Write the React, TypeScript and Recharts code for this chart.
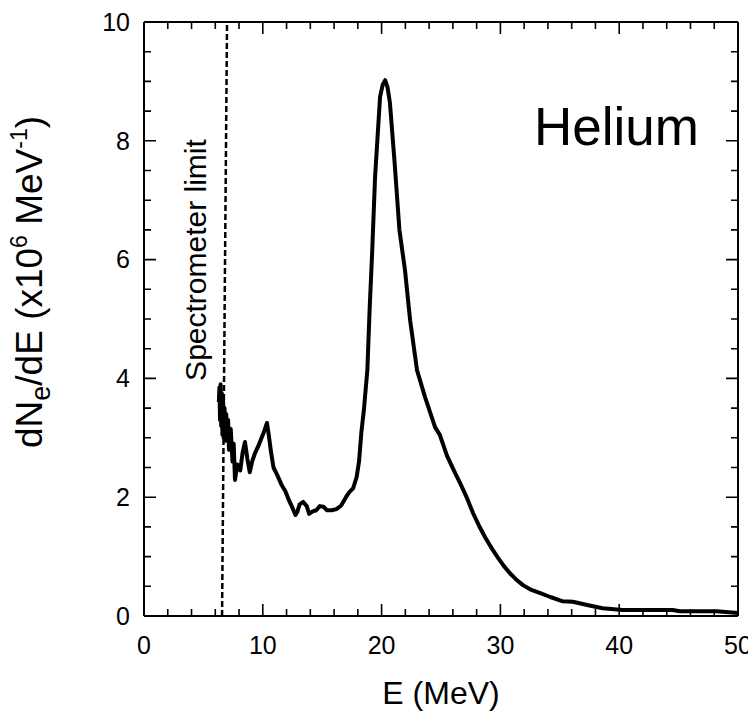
import React from "react";
import { LineChart, Line, XAxis, YAxis, ReferenceLine } from "recharts";

const energy = [
  6.3, 6.35, 6.4, 6.45, 6.5, 6.55, 6.6, 6.65, 6.7, 6.78, 6.85, 6.92, 7.0, 7.08, 7.15, 7.22, 7.3, 7.45, 7.55, 7.66,
  7.85, 8.1, 8.3, 8.5, 8.7, 8.9, 9.1, 9.34, 9.6, 9.9, 10.1, 10.35, 10.5, 10.7, 10.9, 11.2, 11.6, 11.9, 12.2, 12.5,
  12.75, 12.9, 13.1, 13.4, 13.7, 13.9, 14.2, 14.5, 14.8, 15.1, 15.4, 15.8, 16.2, 16.6, 17.0, 17.3, 17.6, 17.9, 18.1, 18.3,
  18.5, 18.8, 19.0, 19.2, 19.45, 19.87, 20.1, 20.3, 20.5, 20.7, 21.1, 21.5, 21.97, 22.4, 22.98, 23.65, 24.5, 24.9, 25.5, 26.2,
  26.6, 27.2, 27.7, 28.2, 28.7, 29.3, 29.8, 30.3, 30.8, 31.3, 31.9, 32.5, 33.3, 34.2, 35.2, 36.1, 37.4, 38.6, 40.3, 42.5,
  44.5, 45.1, 48.2, 50,
];
const dnde = [
  3.6, 3.85, 3.3, 3.9, 3.2, 3.75, 3.05, 3.7, 3.0, 3.5, 2.95, 3.4, 3.0, 3.3, 2.8, 3.1, 3.15, 2.6, 2.9, 2.29,
  2.55, 2.45, 2.75, 2.93, 2.65, 2.42, 2.6, 2.74, 2.85, 3.0, 3.1, 3.25, 3.05, 2.75, 2.5, 2.38, 2.2, 2.1, 1.95, 1.82,
  1.7, 1.75, 1.88, 1.92, 1.85, 1.72, 1.76, 1.78, 1.85, 1.84, 1.78, 1.78, 1.8, 1.86, 2.0, 2.09, 2.15, 2.34, 2.6, 3.1,
  3.45, 4.14, 5.2, 6.1, 7.39, 8.74, 8.95, 9.02, 8.9, 8.64, 7.62, 6.5, 5.82, 4.98, 4.14, 3.69, 3.18, 3.05, 2.7, 2.4,
  2.24, 1.98, 1.73, 1.52, 1.33, 1.13, 0.98, 0.84, 0.72, 0.62, 0.52, 0.45, 0.39, 0.32, 0.25, 0.24, 0.18, 0.13, 0.1, 0.1,
  0.1, 0.08, 0.08, 0.05,
];

const xTicks = [0, 2, 4, 6, 8, 10, 12, 14, 16, 18, 20, 22, 24, 26, 28, 30, 32, 34, 36, 38, 40, 42, 44, 46, 48, 50];
const xMajorStep = 10;
const yTicks = [
  0, 0.5, 1, 1.5, 2, 2.5, 3, 3.5, 4, 4.5, 5, 5.5, 6, 6.5, 7, 7.5, 8, 8.5, 9, 9.5, 10,
];
const yMajorStep = 2;
const limitSegment = [
  { x: 6.57, y: 0 },
  { x: 6.99, y: 10 },
];

const data = energy.map((e, i) => ({ e, v: dnde[i] }));

const FONT = "'Liberation Sans', Arial, Helvetica, sans-serif";

// layout constants (svg pixels)
const CHART_W = 740;
const CHART_H = 704;
const PLOT_LEFT = 136;
const PLOT_TOP = 14;
const PLOT_RIGHT = 730;
const PLOT_BOTTOM = 608;
const MAJOR_LEN = 12;
const MINOR_LEN = 7;

const isMultiple = (v: number, step: number) => Math.abs(v / step - Math.round(v / step)) < 1e-6;

// inward tick marks on all four sides, drawn as one path per tick value
const TickPair = (props: any) => {
  const { x1, x2, y1, len } = props;
  const vertical = Math.abs(Number(x1) - Number(x2)) < 0.5;
  const d = vertical
    ? `M${x1},${PLOT_BOTTOM}V${PLOT_BOTTOM - len}M${x1},${PLOT_TOP}V${PLOT_TOP + len}`
    : `M${PLOT_LEFT},${y1}H${PLOT_LEFT + len}M${PLOT_RIGHT},${y1}H${PLOT_RIGHT - len}`;
  return <path d={d} stroke="#000" strokeWidth={1.6} fill="none" />;
};

export default function App() {
  return (
    <div>
      <style>{`.recharts-wrapper, .recharts-wrapper svg, .recharts-surface { overflow: visible !important; }`}</style>
      <LineChart
        width={CHART_W}
        height={CHART_H}
        data={data}
        style={{ overflow: "visible" }}
        margin={{ top: PLOT_TOP, right: CHART_W - PLOT_RIGHT, bottom: 0, left: 0 }}
      >
        <XAxis xAxisId="b" type="number" dataKey="e" domain={[0, 50]} allowDataOverflow
          ticks={xTicks.filter((v) => isMultiple(v, xMajorStep))} interval={0} tickLine={false} tickSize={0}
          tickMargin={20} tick={{ fontSize: 25, fill: "#000", fontFamily: FONT }}
          height={CHART_H - PLOT_BOTTOM} axisLine={{ stroke: "#000", strokeWidth: 2 }} />
        <YAxis yAxisId="l" type="number" domain={[0, 10]} allowDataOverflow
          ticks={yTicks.filter((v) => isMultiple(v, yMajorStep))} interval={0} tickLine={false} tickSize={0}
          tickMargin={14} tick={{ fontSize: 25, fill: "#000", fontFamily: FONT }}
          width={PLOT_LEFT} axisLine={{ stroke: "#000", strokeWidth: 2 }} />

        <ReferenceLine xAxisId="b" yAxisId="l" y={10} stroke="#000" strokeWidth={2} ifOverflow="visible" />
        <ReferenceLine xAxisId="b" yAxisId="l" x={50} stroke="#000" strokeWidth={2} ifOverflow="visible" />

        {xTicks.map((v) => (
          <ReferenceLine key={"xt" + v} xAxisId="b" yAxisId="l" x={v} ifOverflow="visible"
            shape={(p: any) => <TickPair {...p} len={isMultiple(v, xMajorStep) ? MAJOR_LEN : MINOR_LEN} />} />
        ))}
        {yTicks.map((v) => (
          <ReferenceLine key={"yt" + v} xAxisId="b" yAxisId="l" y={v} ifOverflow="visible"
            shape={(p: any) => <TickPair {...p} len={isMultiple(v, yMajorStep) ? MAJOR_LEN : MINOR_LEN} />} />
        ))}

        <ReferenceLine xAxisId="b" yAxisId="l" segment={limitSegment} stroke="#000" strokeWidth={2.5}
          strokeDasharray="6 3" ifOverflow="visible" />

        <Line xAxisId="b" yAxisId="l" type="linear" dataKey="v" stroke="#000" strokeWidth={4}
          dot={false} activeDot={false} isAnimationActive={false} strokeLinejoin="round" />

        <text x={526} y={137} fontSize={53} fontFamily={FONT} fill="#000">Helium</text>
        <text x={198} y={252} transform="rotate(-90 198 252)" textAnchor="middle" fontSize={30}
          fontFamily={FONT} fill="#000">Spectrometer limit</text>
        <text x={433} y={696} textAnchor="middle" fontSize={32} fontFamily={FONT} fill="#000">E (MeV)</text>
        <text x={34} y={274} transform="rotate(-90 34 274)" textAnchor="middle" fontSize={37}
          fontFamily={FONT} fill="#000">
          dN<tspan fontSize={27} dy={8}>e</tspan>
          <tspan dy={-8}>/dE (x10</tspan>
          <tspan fontSize={23} dy={-15}>6</tspan>
          <tspan dy={15}> MeV</tspan>
          <tspan fontSize={23} dy={-15}>-1</tspan>
          <tspan dy={15}>)</tspan>
        </text>
      </LineChart>
    </div>
  );
}
